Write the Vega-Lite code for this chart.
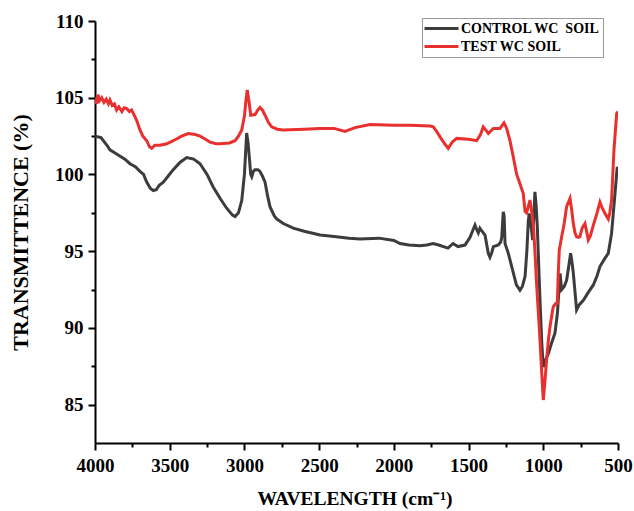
{
  "$schema": "https://vega.github.io/schema/vega-lite/v6.json",
  "autosize": "none",
  "width": 523,
  "height": 422,
  "padding": {"left": 95, "top": 21, "right": 16, "bottom": 68},
  "background": "white",
  "config": {"view": {"stroke": null}},
  "datasets": {
    "control": [
      {"w":4000,"t":102.5},{"w":3960,"t":102.4},{"w":3920,"t":101.9},{"w":3900,"t":101.6},{"w":3850,"t":101.3},{"w":3800,"t":101.0},{"w":3766,"t":100.7},{"w":3730,"t":100.5},{"w":3699,"t":100.2},{"w":3675,"t":100.0},{"w":3654,"t":99.5},{"w":3630,"t":99.1},{"w":3610,"t":98.95},{"w":3590,"t":99.0},{"w":3570,"t":99.3},{"w":3543,"t":99.5},{"w":3510,"t":99.9},{"w":3478,"t":100.3},{"w":3430,"t":100.8},{"w":3386,"t":101.1},{"w":3340,"t":101.0},{"w":3297,"t":100.7},{"w":3250,"t":100.0},{"w":3210,"t":99.2},{"w":3160,"t":98.4},{"w":3119,"t":97.8},{"w":3080,"t":97.35},{"w":3063,"t":97.25},{"w":3040,"t":97.5},{"w":3018,"t":98.3},{"w":3000,"t":100.0},{"w":2990,"t":101.8},{"w":2985,"t":102.7},{"w":2975,"t":102.0},{"w":2967,"t":101.1},{"w":2958,"t":100.0},{"w":2951,"t":99.85},{"w":2940,"t":100.2},{"w":2929,"t":100.3},{"w":2910,"t":100.3},{"w":2896,"t":100.2},{"w":2880,"t":99.9},{"w":2862,"t":99.5},{"w":2845,"t":98.6},{"w":2829,"t":97.9},{"w":2800,"t":97.3},{"w":2784,"t":97.1},{"w":2740,"t":96.8},{"w":2673,"t":96.5},{"w":2600,"t":96.3},{"w":2494,"t":96.05},{"w":2400,"t":95.95},{"w":2300,"t":95.85},{"w":2227,"t":95.8},{"w":2100,"t":95.85},{"w":2000,"t":95.7},{"w":1959,"t":95.5},{"w":1900,"t":95.4},{"w":1825,"t":95.35},{"w":1780,"t":95.4},{"w":1738,"t":95.5},{"w":1700,"t":95.4},{"w":1638,"t":95.2},{"w":1604,"t":95.5},{"w":1571,"t":95.3},{"w":1524,"t":95.4},{"w":1490,"t":95.9},{"w":1470,"t":96.4},{"w":1457,"t":96.7},{"w":1445,"t":96.4},{"w":1435,"t":96.2},{"w":1424,"t":96.5},{"w":1410,"t":96.3},{"w":1390,"t":96.05},{"w":1368,"t":94.86},{"w":1357,"t":94.6},{"w":1345,"t":94.9},{"w":1334,"t":95.3},{"w":1301,"t":95.4},{"w":1285,"t":95.6},{"w":1278,"t":95.9},{"w":1268,"t":97.57},{"w":1262,"t":97.3},{"w":1256,"t":95.5},{"w":1234,"t":94.86},{"w":1201,"t":93.6},{"w":1180,"t":92.8},{"w":1156,"t":92.45},{"w":1140,"t":92.7},{"w":1122,"t":93.35},{"w":1110,"t":95.0},{"w":1100,"t":97.0},{"w":1094,"t":97.46},{"w":1080,"t":96.5},{"w":1071,"t":95.73},{"w":1062,"t":97.5},{"w":1056,"t":98.87},{"w":1048,"t":98.0},{"w":1040,"t":96.6},{"w":1022,"t":91.8},{"w":1010,"t":89.0},{"w":1000,"t":87.45},{"w":990,"t":87.8},{"w":967,"t":88.3},{"w":945,"t":89.0},{"w":922,"t":89.65},{"w":905,"t":91.0},{"w":888,"t":93.56},{"w":877,"t":92.5},{"w":860,"t":92.7},{"w":844,"t":93.1},{"w":830,"t":94.0},{"w":817,"t":94.86},{"w":808,"t":94.3},{"w":799,"t":93.56},{"w":777,"t":91.17},{"w":760,"t":91.5},{"w":732,"t":91.8},{"w":700,"t":92.3},{"w":665,"t":92.8},{"w":640,"t":93.4},{"w":621,"t":94.0},{"w":590,"t":94.5},{"w":565,"t":94.86},{"w":543,"t":96.16},{"w":520,"t":98.76},{"w":505,"t":100.5}
    ],
    "test": [
      {"w":4000,"t":105.0},{"w":3990,"t":104.6},{"w":3980,"t":105.2},{"w":3970,"t":104.8},{"w":3955,"t":105.0},{"w":3940,"t":104.7},{"w":3925,"t":104.9},{"w":3910,"t":104.6},{"w":3900,"t":104.85},{"w":3885,"t":104.5},{"w":3870,"t":104.6},{"w":3855,"t":104.2},{"w":3840,"t":104.4},{"w":3820,"t":104.1},{"w":3805,"t":104.35},{"w":3788,"t":104.3},{"w":3770,"t":104.1},{"w":3755,"t":104.2},{"w":3744,"t":104.0},{"w":3720,"t":103.5},{"w":3699,"t":102.9},{"w":3680,"t":102.5},{"w":3654,"t":102.2},{"w":3635,"t":101.8},{"w":3621,"t":101.7},{"w":3600,"t":101.9},{"w":3565,"t":101.9},{"w":3520,"t":102.0},{"w":3476,"t":102.2},{"w":3420,"t":102.5},{"w":3376,"t":102.67},{"w":3330,"t":102.6},{"w":3297,"t":102.5},{"w":3260,"t":102.3},{"w":3230,"t":102.1},{"w":3190,"t":102.0},{"w":3163,"t":102.0},{"w":3100,"t":102.05},{"w":3063,"t":102.2},{"w":3040,"t":102.5},{"w":3018,"t":102.9},{"w":3000,"t":103.8},{"w":2990,"t":104.8},{"w":2981,"t":105.5},{"w":2970,"t":104.8},{"w":2958,"t":103.86},{"w":2929,"t":103.9},{"w":2910,"t":104.2},{"w":2896,"t":104.36},{"w":2880,"t":104.2},{"w":2862,"t":103.86},{"w":2840,"t":103.4},{"w":2818,"t":103.1},{"w":2780,"t":102.95},{"w":2740,"t":102.9},{"w":2600,"t":102.95},{"w":2494,"t":103.0},{"w":2400,"t":103.0},{"w":2327,"t":102.8},{"w":2260,"t":103.05},{"w":2160,"t":103.25},{"w":2000,"t":103.2},{"w":1892,"t":103.2},{"w":1758,"t":103.15},{"w":1736,"t":103.1},{"w":1713,"t":102.8},{"w":1691,"t":102.45},{"w":1660,"t":102.0},{"w":1636,"t":101.7},{"w":1610,"t":102.1},{"w":1580,"t":102.35},{"w":1500,"t":102.3},{"w":1446,"t":102.2},{"w":1420,"t":102.6},{"w":1402,"t":103.1},{"w":1385,"t":102.9},{"w":1368,"t":102.67},{"w":1334,"t":103.0},{"w":1290,"t":103.0},{"w":1263,"t":103.36},{"w":1245,"t":103.0},{"w":1223,"t":102.2},{"w":1200,"t":101.1},{"w":1178,"t":100.0},{"w":1156,"t":99.4},{"w":1134,"t":98.76},{"w":1122,"t":97.6},{"w":1112,"t":97.5},{"w":1089,"t":98.33},{"w":1078,"t":97.6},{"w":1067,"t":96.8},{"w":1056,"t":95.0},{"w":1045,"t":92.9},{"w":1022,"t":89.2},{"w":1010,"t":87.0},{"w":1000,"t":85.3},{"w":990,"t":86.4},{"w":978,"t":87.9},{"w":966,"t":89.2},{"w":955,"t":90.08},{"w":940,"t":91.0},{"w":933,"t":91.38},{"w":915,"t":91.6},{"w":906,"t":91.6},{"w":900,"t":93.5},{"w":893,"t":95.07},{"w":877,"t":95.94},{"w":860,"t":96.8},{"w":844,"t":97.9},{"w":821,"t":98.44},{"w":810,"t":97.7},{"w":799,"t":96.8},{"w":788,"t":96.2},{"w":777,"t":95.94},{"w":765,"t":95.9},{"w":755,"t":95.94},{"w":740,"t":96.5},{"w":721,"t":96.8},{"w":710,"t":96.3},{"w":699,"t":95.73},{"w":685,"t":96.0},{"w":665,"t":96.7},{"w":640,"t":97.5},{"w":621,"t":98.2},{"w":605,"t":97.8},{"w":587,"t":97.46},{"w":565,"t":97.1},{"w":555,"t":97.5},{"w":543,"t":98.3},{"w":527,"t":101.6},{"w":509,"t":103.97},{"w":500,"t":104.1}
    ]
  },
  "layer": [
    {
      "data": {"name": "control"},
      "transform": [{"calculate": "'CONTROL WC\u00a0 SOIL'", "as": "s"}],
      "mark": {"type": "line", "strokeWidth": 3, "clip": true},
      "encoding": {
        "x": {"field": "w", "type": "quantitative"},
        "y": {"field": "t", "type": "quantitative"},
        "color": {"field": "s", "type": "nominal"}
      }
    },
    {
      "data": {"name": "test"},
      "transform": [{"calculate": "'TEST WC SOIL'", "as": "s"}],
      "mark": {"type": "line", "strokeWidth": 3, "clip": true},
      "encoding": {
        "x": {"field": "w", "type": "quantitative"},
        "y": {"field": "t", "type": "quantitative"},
        "color": {"field": "s", "type": "nominal"}
      }
    }
  ],
  "encoding": {
    "x": {
      "field": "w", "type": "quantitative",
      "scale": {"domain": [500, 4000], "reverse": true, "nice": false, "zero": false},
      "axis": {
        "title": "WAVELENGTH (cm⁻¹)",
        "values": [500,750,1000,1250,1500,1750,2000,2250,2500,2750,3000,3250,3500,3750,4000],
        "labelExpr": "datum.value % 500 == 0 ? datum.label : ''",
        "format": "d",
        "grid": false,
        "domainColor": "black", "domainWidth": 2,
        "tickColor": "black", "tickWidth": 2,
        "tickSize": {"condition": {"test": "datum.value % 500 != 0", "value": 4}, "value": 7},
        "labelFont": "Liberation Serif", "labelFontWeight": "bold", "labelFontSize": 19, "labelColor": "black",
        "labelPadding": 6, "labelFlush": false, "labelOverlap": false,
        "titleFont": "Liberation Serif", "titleFontWeight": "bold", "titleFontSize": 19.5, "titleColor": "black",
        "titlePadding": 14, "titleAlign": "left", "titleX": 162
      }
    },
    "y": {
      "field": "t", "type": "quantitative",
      "scale": {"domain": [82.5, 110], "nice": false, "zero": false},
      "axis": {
        "title": "TRANSMITTENCE (%)",
        "values": [85,87.5,90,92.5,95,97.5,100,102.5,105,107.5,110],
        "labelExpr": "datum.value % 5 == 0 ? datum.label : ''",
        "grid": false,
        "domainColor": "black", "domainWidth": 2,
        "tickColor": "black", "tickWidth": 2,
        "tickSize": {"condition": {"test": "datum.value % 5 != 0", "value": 4}, "value": 7},
        "labelFont": "Liberation Serif", "labelFontWeight": "bold", "labelFontSize": 19, "labelColor": "black",
        "labelPadding": 5, "labelFlush": false, "labelOverlap": false,
        "titleFont": "Liberation Serif", "titleFontWeight": "bold", "titleFontSize": 22, "titleColor": "black",
        "titlePadding": 22
      }
    },
    "color": {
      "field": "s", "type": "nominal",
      "scale": {"domain": ["CONTROL WC\u00a0 SOIL", "TEST WC SOIL"], "range": ["#3c3c3c", "#e8302e"]},
      "legend": {
        "title": null,
        "orient": "none", "legendX": 327, "legendY": -3,
        "symbolType": "M-1.33,0H4.33", "symbolSize": 144, "symbolStrokeWidth": 3,
        "labelFont": "Liberation Serif", "labelFontWeight": "bold", "labelFontSize": 14, "labelColor": "black",
        "strokeColor": "#999", "padding": 3, "rowPadding": 3, "labelOffset": 21,
        "fillColor": "white"
      }
    }
  }
}
